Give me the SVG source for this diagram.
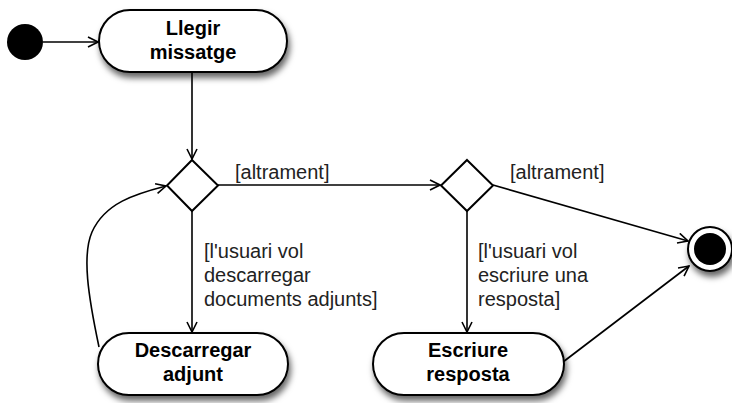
<svg xmlns="http://www.w3.org/2000/svg" width="732" height="403" viewBox="0 0 732 403">
  <defs>
    <filter id="shadow" x="-20%" y="-30%" width="150%" height="170%">
      <feDropShadow dx="2" dy="5" stdDeviation="3" flood-color="#000" flood-opacity="0.6"/>
    </filter>
    <marker id="open" viewBox="0 0 12 12" refX="11" refY="6" markerWidth="12" markerHeight="12" markerUnits="userSpaceOnUse" orient="auto">
      <path d="M1,1 L11,6 L1,11" fill="none" stroke="#000" stroke-width="1.6"/>
    </marker>
    <style>
      .action { fill: #fff; stroke: #000; stroke-width: 2; filter: url(#shadow); }
      .decision { fill: #fff; stroke: #000; stroke-width: 2; }
      .label { font-family: "Liberation Sans", Arial, sans-serif; font-size: 20px; font-weight: bold; text-anchor: middle; fill: #000; }
      .guard { font-family: "Liberation Sans", Arial, sans-serif; font-size: 20px; fill: #222; }
      .edge { fill: none; stroke: #000; stroke-width: 1.6; marker-end: url(#open); }
    </style>
  </defs>
  <rect width="732" height="403" fill="#fff"/>

  <g id="connectors">
    <line class="edge" x1="43" y1="42" x2="98" y2="42"/>
    <line class="edge" x1="192" y1="72" x2="192" y2="159"/>
    <line class="edge" x1="218" y1="185" x2="440" y2="185"/>
    <line class="edge" x1="192" y1="211" x2="192" y2="332"/>
    <line class="edge" x1="467" y1="211" x2="467" y2="332"/>
    <line class="edge" x1="493" y1="185" x2="688" y2="241"/>
    <line class="edge" x1="563" y1="362" x2="689" y2="266"/>
    <path class="edge" d="M99 347 C88 295 82 255 92 232 C105 203 135 194 166 186"/>
    <text class="guard" x="235" y="179">[altrament]</text>
    <text class="guard" x="510" y="179">[altrament]</text>
    <text class="guard" x="204" y="258">[l'usuari vol</text>
    <text class="guard" x="204" y="282">descarregar</text>
    <text class="guard" x="204" y="306">documents adjunts]</text>
    <text class="guard" x="478" y="258">[l'usuari vol</text>
    <text class="guard" x="478" y="282">escriure una</text>
    <text class="guard" x="478" y="306">resposta]</text>
  </g>

  <g id="initial">
    <circle cx="25" cy="42" r="18" fill="#000"/>
  </g>

  <g id="llegir-missatge">
    <rect class="action" x="99" y="10" width="188" height="62" rx="31"/>
    <text class="label" x="193" y="35">Llegir</text>
    <text class="label" x="193" y="59">missatge</text>
  </g>

  <g id="decision-1">
    <polygon class="decision" points="192,160 218,185.5 192,211 167,185.5"/>
  </g>

  <g id="decision-2">
    <polygon class="decision" points="467,160 493,185.5 467,211 441,185.5"/>
  </g>

  <g id="descarregar-adjunt">
    <rect class="action" x="98" y="333" width="190" height="62" rx="31"/>
    <text class="label" x="193" y="357">Descarregar</text>
    <text class="label" x="193" y="381">adjunt</text>
  </g>

  <g id="escriure-resposta">
    <rect class="action" x="373" y="333" width="191" height="62" rx="31"/>
    <text class="label" x="468" y="357">Escriure</text>
    <text class="label" x="468" y="381">resposta</text>
  </g>

  <g id="final">
    <circle cx="710" cy="249" r="22" fill="#fff" stroke="#000" stroke-width="2" filter="url(#shadow)"/>
    <circle cx="710" cy="249" r="16" fill="#000"/>
  </g>
</svg>
